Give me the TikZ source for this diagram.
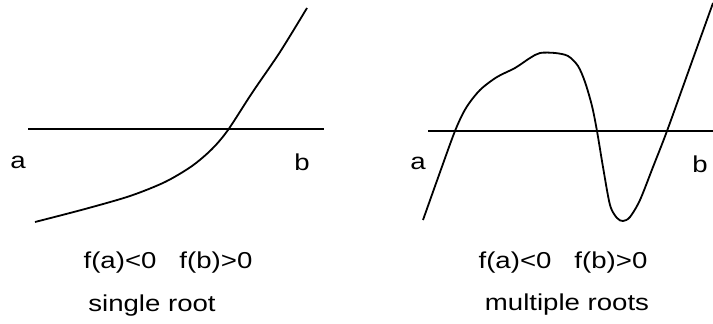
\documentclass[tikz,border=0pt]{standalone}
\usepackage{fontspec}
\setmainfont{Liberation Sans}
\usetikzlibrary{positioning}

\begin{document}
\begin{tikzpicture}[x=1pt,y=-1pt,line width=1.8pt]
\tikzset{lbl/.style={font=\fontsize{23}{26}\selectfont,inner sep=0pt,transform shape,xscale=1.2}}
\useasboundingbox (0,0) rectangle (713,324);
% single root
\draw (28,129)--(324,129);
\draw plot[smooth] coordinates {(35,222) (85,209) (130,196) (165,182) (192,166) (212,149) (228,130) (252,93) (280,52) (307,8)};
\node[lbl] (a1) at (18,162) {a};
\node[lbl] (b1) at (302,162) {b};
\node[lbl] (cond1) at (168,263) {f(a)<0\ \ \ f(b)>0};
\node[lbl] (name1) at (152,306) {single root};
% multiple roots
\draw (428,131)--(713,131);
\draw plot[smooth] coordinates {(423,220) (439,175) (455,131) (466,108) (480,90) (497,77) (515,68) (530,58) (540,53) (555,53) (568,56) (578,66) (585,82) (592,106) (597,131) (603,167) (610,205) (617,218) (623,221) (630,217) (640,200) (653,167) (667,131) (690,67) (713,3)};
\node[lbl] (a2) at (418,163) {a};
\node[lbl] (b2) at (700,164) {b};
\node[lbl] (cond2) at (563,263) {f(a)<0\ \ \ f(b)>0};
\node[lbl] (name2) at (567,305) {multiple roots};
\end{tikzpicture}
\end{document}
